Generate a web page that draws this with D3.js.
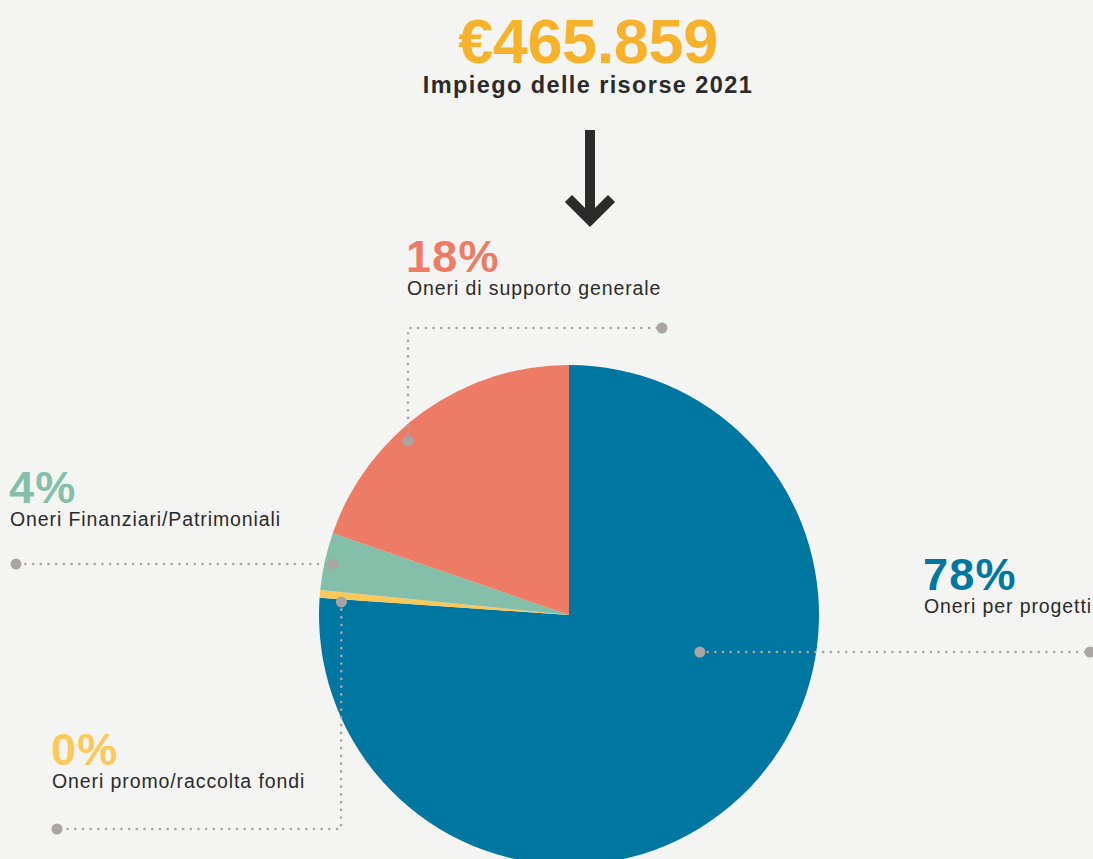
<!DOCTYPE html>
<html>
<head>
<meta charset="utf-8">
<script src="https://cdn.jsdelivr.net/npm/d3@7"></script>
<style>
  html, body { margin: 0; padding: 0; background: #f4f4f2; }
  svg { display: block; font-family: "Liberation Sans", Arial, sans-serif; }
</style>
</head>
<body>
<script>
// data (slice sizes as drawn, labels as printed)
var categories = ["Oneri per progetti", "Oneri promo/raccolta fondi", "Oneri Finanziari/Patrimoniali", "Oneri di supporto generale"];
var values = [76.1, 0.5, 3.7, 19.7];
var pctLabels = ["78%", "0%", "4%", "18%"];
var colors = ["#0077a1", "#fdc85a", "#83bfa9", "#ed7b65"];
var total = "€465.859";
var subtitle = "Impiego delle risorse 2021";

var W = 1093, H = 859;
var cx = 569, cy = 615, R = 250;

// annotation layout: anchor in polar coords (deg clockwise from top, px), then elbow + end point, text position
var notes = [
  {ang: 105.8, r: 136, pts: [[1090, 652]], tx: 923, ty: 590},
  {ang: 273.3, r: 228, pts: [[341, 829], [57, 829]], tx: 51, ty: 765},
  {ang: 282.2, r: 241, pts: [[16, 564]], tx: 9, ty: 503},
  {ang: 317.2, r: 237, pts: [[408, 328], [662, 328]], tx: 406, ty: 272}
];

var svg = d3.select("body").append("svg").attr("width", W).attr("height", H);

// title
svg.append("text").attr("x", 588).attr("y", 63).attr("text-anchor", "middle")
  .attr("font-size", 63).attr("font-weight", "bold").attr("fill", "#f6b22a")
  .attr("letter-spacing", -0.4).text(total);
svg.append("text").attr("x", 588).attr("y", 93).attr("text-anchor", "middle")
  .attr("font-size", 23.5).attr("font-weight", "bold").attr("fill", "#2b2b2b")
  .attr("letter-spacing", 1.4).text(subtitle);

// arrow
var arrow = svg.append("g").attr("stroke", "#2b2b2b").attr("fill", "none");
arrow.append("line").attr("x1", 590).attr("x2", 590).attr("y1", 130).attr("y2", 222).attr("stroke-width", 10);
arrow.append("path").attr("d", "M572,202 L590,220 L608,202").attr("stroke-width", 10)
  .attr("stroke-linecap", "square").attr("stroke-linejoin", "miter");

// pie
var pie = d3.pie().sort(null).value(function(d) { return d; });
var arc = d3.arc().innerRadius(0).outerRadius(R);
var g = svg.append("g").attr("transform", "translate(" + cx + "," + cy + ")");
g.selectAll("path").data(pie(values)).enter().append("path")
  .attr("d", arc).attr("fill", function(d, i) { return colors[i]; });

// leaders
var ann = svg.append("g");
notes.forEach(function(n, i) {
  var a = n.ang * Math.PI / 180;
  var start = [cx + n.r * Math.sin(a), cy - n.r * Math.cos(a)];
  var pts = [start].concat(n.pts);
  ann.append("path").attr("d", d3.line()(pts)).attr("fill", "none")
    .attr("stroke", "#aaa6a6").attr("stroke-width", 2.6)
    .attr("stroke-dasharray", "0.1 7.6").attr("stroke-linecap", "round");
  [start, pts[pts.length - 1]].forEach(function(p) {
    ann.append("circle").attr("cx", p[0]).attr("cy", p[1]).attr("r", 5.5).attr("fill", "#a9a5a5");
  });
  ann.append("text").attr("x", n.tx).attr("y", n.ty).attr("font-size", 45)
    .attr("font-weight", "bold").attr("fill", colors[i]).attr("letter-spacing", 1.2).text(pctLabels[i]);
  ann.append("text").attr("x", n.tx + 1).attr("y", n.ty + 23).attr("font-size", 19.5)
    .attr("fill", "#2b2b2b").attr("letter-spacing", 0.9).text(categories[i]);
});
</script>
</body>
</html>
